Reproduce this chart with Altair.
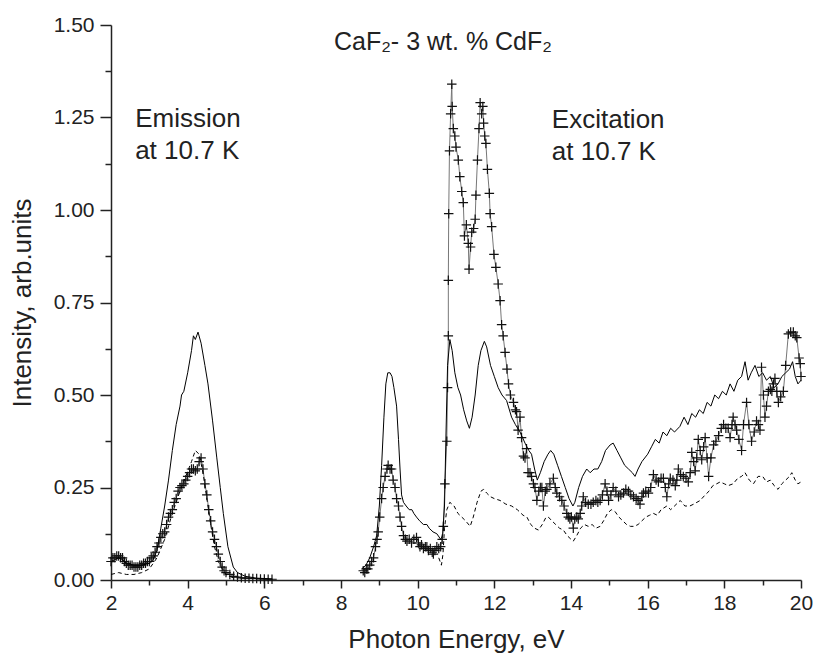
import altair as alt
import pandas as pd

# ---------------- data ----------------
# Emission (2-6.2 eV)
em_solid_x = [2.0, 2.1, 2.2, 2.3, 2.4, 2.6, 2.8, 3.0, 3.1, 3.2, 3.3, 3.4, 3.5, 3.6, 3.7, 3.8, 3.84, 3.9,
              4.0, 4.1, 4.15, 4.2, 4.27, 4.35, 4.45, 4.53, 4.65, 4.76, 4.85, 4.93, 5.05, 5.19, 5.3, 5.5, 5.8, 6.2]
em_solid_y = [0.05, 0.055, 0.06, 0.055, 0.045, 0.04, 0.04, 0.045, 0.055, 0.08, 0.14, 0.2, 0.27, 0.35, 0.42,
              0.47, 0.50, 0.51, 0.56, 0.62, 0.66, 0.65, 0.67, 0.64, 0.58, 0.53, 0.43, 0.33, 0.25, 0.18, 0.09,
              0.035, 0.02, 0.01, 0.005, 0.003]

em_dash_x = [2.0, 2.2, 2.4, 2.6, 2.8, 3.0, 3.2, 3.4, 3.6, 3.8, 3.95, 4.1, 4.2, 4.3, 4.4, 4.5, 4.6, 4.7, 4.8,
             4.9, 5.0, 5.2]
em_dash_y = [0.015, 0.02, 0.015, 0.015, 0.02, 0.03, 0.06, 0.11, 0.18, 0.24, 0.28, 0.32, 0.35, 0.34, 0.29,
             0.22, 0.15, 0.09, 0.05, 0.03, 0.015, 0.005]

em_cross_x = [2.0, 2.05, 2.1, 2.15, 2.2, 2.25, 2.3, 2.35, 2.4, 2.45, 2.5, 2.55, 2.6, 2.65, 2.7, 2.75, 2.8,
              2.85, 2.9, 2.95, 3.0, 3.05, 3.1, 3.15, 3.2, 3.25, 3.3, 3.35, 3.4, 3.45, 3.5, 3.55, 3.6, 3.65,
              3.7, 3.75, 3.8, 3.85, 3.9, 3.95, 4.0, 4.05, 4.1, 4.15, 4.2, 4.25, 4.3, 4.35, 4.4, 4.45, 4.5,
              4.55, 4.6, 4.65, 4.7, 4.75, 4.8, 4.85, 4.9, 4.95, 5.0, 5.1, 5.2, 5.3, 5.4, 5.5, 5.6, 5.7, 5.8,
              5.9, 6.0, 6.1, 6.2]
em_cross_y = [0.05, 0.06, 0.06, 0.065, 0.065, 0.06, 0.06, 0.05, 0.045, 0.04, 0.04, 0.04, 0.035, 0.035,
              0.035, 0.04, 0.04, 0.045, 0.045, 0.05, 0.05, 0.06, 0.065, 0.075, 0.09, 0.10, 0.115, 0.125,
              0.13, 0.15, 0.17, 0.18, 0.19, 0.21, 0.22, 0.24, 0.25, 0.255, 0.26, 0.27, 0.28, 0.29, 0.30,
              0.30, 0.295, 0.30, 0.32, 0.33, 0.30, 0.26, 0.23, 0.19, 0.16, 0.13, 0.11, 0.09, 0.07, 0.05,
              0.035, 0.025, 0.02, 0.015, 0.01, 0.008, 0.006, 0.005, 0.005, 0.004, 0.004, 0.003, 0.003,
              0.002, 0.002]

# Excitation (8.5-20 eV)
ex_solid_x = [8.54, 8.65, 8.75, 8.85, 8.93, 9.0, 9.06, 9.12, 9.17, 9.22, 9.28, 9.33, 9.38, 9.45, 9.5, 9.54,
              9.58, 9.63, 9.7, 9.78, 9.85, 9.9, 9.97, 10.05, 10.15, 10.24, 10.3, 10.4, 10.5, 10.6, 10.65,
              10.7, 10.74, 10.78, 10.84, 10.9, 10.97, 11.05, 11.12, 11.2, 11.28, 11.35, 11.42, 11.5, 11.58,
              11.65, 11.74, 11.8, 11.9, 12.0, 12.1, 12.2, 12.32, 12.45, 12.55, 12.67, 12.8, 12.9, 12.97,
              13.05, 13.12, 13.2, 13.3, 13.4, 13.47, 13.55, 13.65, 13.75, 13.85, 13.95, 14.05, 14.1, 14.2,
              14.3, 14.41, 14.5, 14.6, 14.7, 14.8, 14.9, 15.02, 15.1, 15.2, 15.3, 15.4, 15.5, 15.6, 15.67,
              15.75, 15.85, 16.0, 16.1, 16.2, 16.3, 16.4, 16.5, 16.6, 16.7, 16.84, 16.95, 17.05, 17.15,
              17.25, 17.35, 17.45, 17.55, 17.65, 17.75, 17.85, 17.95, 18.05, 18.15, 18.25, 18.35, 18.45,
              18.54, 18.62, 18.7, 18.8, 18.9, 19.0, 19.1, 19.2, 19.3, 19.4, 19.5, 19.6, 19.7, 19.78, 19.85,
              19.92, 20.0]
ex_solid_y = [0.03, 0.04, 0.06, 0.09, 0.12, 0.2, 0.31, 0.44, 0.53, 0.56, 0.56, 0.55, 0.52, 0.47, 0.38, 0.30,
              0.23, 0.21, 0.20, 0.19, 0.19, 0.18, 0.17, 0.16, 0.15, 0.15, 0.14, 0.13, 0.125, 0.11, 0.12,
              0.2, 0.40, 0.58, 0.65, 0.62, 0.56, 0.52, 0.50, 0.46, 0.43, 0.41, 0.44, 0.50, 0.58, 0.62,
              0.645, 0.63, 0.58, 0.55, 0.52, 0.50, 0.485, 0.44, 0.42, 0.40, 0.37, 0.35, 0.34, 0.30, 0.27,
              0.29, 0.32, 0.34, 0.35, 0.34, 0.31, 0.28, 0.25, 0.22, 0.20, 0.21, 0.25, 0.28, 0.30, 0.29,
              0.30, 0.30, 0.32, 0.35, 0.365, 0.37, 0.35, 0.33, 0.31, 0.30, 0.29, 0.28, 0.30, 0.32, 0.34,
              0.36, 0.38, 0.37, 0.40, 0.39, 0.41, 0.40, 0.415, 0.44, 0.42, 0.45, 0.44, 0.46, 0.45, 0.48,
              0.47, 0.50, 0.49, 0.51, 0.50, 0.53, 0.51, 0.54, 0.55, 0.59, 0.54, 0.56, 0.58, 0.55, 0.56,
              0.54, 0.55, 0.52, 0.53, 0.55, 0.56, 0.57, 0.59, 0.55, 0.53, 0.54]

ex_dash_x = [10.55, 10.62, 10.66, 10.7, 10.76, 10.84, 10.95, 11.05, 11.15, 11.25, 11.37, 11.45, 11.55,
             11.65, 11.72, 11.8, 11.9, 12.0, 12.15, 12.3, 12.45, 12.6, 12.75, 12.85, 12.95, 13.05, 13.15,
             13.25, 13.35, 13.41, 13.5, 13.6, 13.7, 13.8, 13.9, 14.0, 14.06, 14.15, 14.25, 14.35, 14.45,
             14.55, 14.65, 14.76, 14.85, 14.95, 15.05, 15.15, 15.25, 15.35, 15.45, 15.55, 15.65, 15.75,
             15.85, 15.95, 16.05, 16.15, 16.25, 16.35, 16.5, 16.6, 16.7, 16.85, 16.97, 17.1, 17.2, 17.37,
             17.5, 17.6, 17.7, 17.8, 17.89, 18.0, 18.1, 18.23, 18.35, 18.45, 18.54, 18.65, 18.76, 18.88,
             19.0, 19.1, 19.2, 19.3, 19.4, 19.5, 19.6, 19.7, 19.76, 19.85, 19.92, 20.0]
ex_dash_y = [0.06, 0.04, 0.07, 0.14, 0.19, 0.21, 0.2, 0.18, 0.17, 0.16, 0.145, 0.17, 0.21, 0.24, 0.245,
             0.235, 0.225, 0.22, 0.215, 0.205, 0.2, 0.19, 0.175, 0.17, 0.15, 0.14, 0.135, 0.15, 0.17, 0.17,
             0.16, 0.15, 0.14, 0.135, 0.12, 0.11, 0.105, 0.12, 0.14, 0.15, 0.145, 0.15, 0.14, 0.145, 0.16,
             0.18, 0.19, 0.185, 0.17, 0.16, 0.15, 0.145, 0.145, 0.15, 0.16, 0.17, 0.175, 0.18, 0.175, 0.19,
             0.2, 0.19, 0.2, 0.215, 0.2, 0.2, 0.205, 0.215, 0.23, 0.24, 0.255, 0.26, 0.265, 0.26, 0.255,
             0.26, 0.275, 0.28, 0.29, 0.27, 0.26, 0.28, 0.28, 0.265, 0.27, 0.255, 0.245, 0.26, 0.27, 0.28,
             0.29, 0.27, 0.26, 0.265]

ex_cross_x = [8.58, 8.62, 8.66, 8.7, 8.75, 8.8, 8.85, 8.9, 8.94, 8.97, 9.01, 9.06, 9.1, 9.15, 9.2, 9.23,
              9.28, 9.32, 9.36, 9.41, 9.45, 9.5, 9.54, 9.58, 9.63, 9.68, 9.72, 9.78, 9.84, 9.9, 9.97, 10.02,
              10.06, 10.1, 10.15, 10.2, 10.24, 10.28, 10.33, 10.38, 10.41, 10.45, 10.5, 10.55, 10.6, 10.64,
              10.67, 10.71, 10.76, 10.78, 10.8, 10.8, 10.81, 10.83, 10.86, 10.89, 10.9, 10.93, 10.97, 11.0,
              11.06, 11.1, 11.15, 11.19, 11.22, 11.27, 11.32, 11.34, 11.38, 11.41, 11.46, 11.5, 11.52,
              11.56, 11.6, 11.63, 11.67, 11.7, 11.72, 11.75, 11.78, 11.82, 11.87, 11.89, 11.93, 11.99,
              12.04, 12.1, 12.15, 12.19, 12.23, 12.28, 12.33, 12.37, 12.42, 12.5, 12.55, 12.58, 12.62,
              12.67, 12.71, 12.76, 12.8, 12.84, 12.88, 12.93, 12.97, 13.02, 13.06, 13.11, 13.16, 13.2,
              13.24, 13.28, 13.33, 13.37, 13.45, 13.54, 13.59, 13.63, 13.7, 13.76, 13.82, 13.89, 13.93,
              13.97, 14.01, 14.06, 14.1, 14.15, 14.19, 14.24, 14.28, 14.32, 14.38, 14.45, 14.52, 14.58,
              14.65, 14.7, 14.76, 14.82, 14.89, 14.94, 14.98, 15.04, 15.1, 15.17, 15.24, 15.3, 15.37,
              15.43, 15.5, 15.56, 15.63, 15.7, 15.75, 15.8, 15.85, 15.89, 15.95, 16.02, 16.08, 16.15,
              16.22, 16.28, 16.35, 16.41, 16.46, 16.5, 16.55, 16.59, 16.66, 16.72, 16.76, 16.8, 16.86,
              16.93, 17.0, 17.06, 17.11, 17.15, 17.2, 17.24, 17.28, 17.32, 17.37, 17.41, 17.46, 17.5,
              17.55, 17.59, 17.65, 17.72, 17.78, 17.85, 17.92, 17.98, 18.04, 18.1, 18.15, 18.2, 18.23,
              18.28, 18.32, 18.38, 18.45, 18.5, 18.58, 18.64, 18.71, 18.78, 18.84, 18.89, 18.93, 18.97,
              19.02, 19.06, 19.1, 19.15, 19.2, 19.24, 19.28, 19.32, 19.37, 19.41, 19.47, 19.54, 19.6,
              19.67, 19.73, 19.8, 19.85, 19.89, 19.95, 19.98, 20.0]
ex_cross_y = [0.025, 0.02, 0.03, 0.03, 0.04, 0.05, 0.06, 0.09, 0.11, 0.13, 0.17, 0.22, 0.25, 0.28, 0.30,
              0.31, 0.30, 0.30, 0.27, 0.25, 0.22, 0.20, 0.17, 0.145, 0.12, 0.11, 0.105, 0.11, 0.10, 0.11,
              0.115, 0.10, 0.09, 0.095, 0.085, 0.09, 0.09, 0.08, 0.085, 0.075, 0.07, 0.08, 0.09, 0.085,
              0.09, 0.11, 0.145, 0.26, 0.375, 0.52, 0.66, 0.81, 0.99, 1.16, 1.26, 1.34, 1.28, 1.22, 1.2,
              1.17, 1.135, 1.09, 1.05, 1.02, 0.93, 0.96, 0.91, 0.84, 0.9, 0.94, 0.95, 0.975, 1.04, 1.135,
              1.22, 1.29, 1.26, 1.28, 1.235, 1.2, 1.18, 1.11, 1.045, 0.99, 0.955, 0.88, 0.845, 0.80,
              0.755, 0.69, 0.66, 0.615, 0.57, 0.53, 0.50, 0.48, 0.46, 0.455, 0.405, 0.44, 0.385, 0.335,
              0.33, 0.355, 0.29, 0.29, 0.28, 0.26, 0.25, 0.215, 0.24, 0.25, 0.25, 0.2, 0.24, 0.245, 0.26,
              0.275, 0.25, 0.235, 0.225, 0.215, 0.2, 0.18, 0.17, 0.165, 0.17, 0.14, 0.165, 0.17, 0.165,
              0.18, 0.2, 0.225, 0.21, 0.205, 0.205, 0.21, 0.215, 0.21, 0.215, 0.23, 0.26, 0.24, 0.215,
              0.23, 0.25, 0.24, 0.225, 0.23, 0.235, 0.245, 0.24, 0.23, 0.225, 0.22, 0.215, 0.205, 0.225,
              0.235, 0.24, 0.235, 0.25, 0.285, 0.27, 0.265, 0.275, 0.275, 0.25, 0.225, 0.26, 0.275, 0.27,
              0.255, 0.27, 0.30, 0.285, 0.28, 0.275, 0.265, 0.29, 0.345, 0.32, 0.295, 0.33, 0.38, 0.35,
              0.325, 0.36, 0.385, 0.33, 0.28, 0.33, 0.365, 0.375, 0.39, 0.41, 0.42, 0.41, 0.41, 0.385,
              0.42, 0.44, 0.42, 0.405, 0.38, 0.35, 0.42, 0.48, 0.42, 0.375, 0.40, 0.43, 0.42, 0.405,
              0.575, 0.50, 0.44, 0.47, 0.51, 0.515, 0.51, 0.53, 0.545, 0.51, 0.48, 0.495, 0.51, 0.58,
              0.665, 0.67, 0.67, 0.66, 0.655, 0.60, 0.585, 0.55]

# annotation texts (positions in data units)
title_text = ["CaF\u2082- 3 wt. % CdF\u2082"]
title_x = [10.66]
title_y = [1.432]
note_text = ["Emission", "at 10.7 K", "Excitation", "at 10.7 K"]
note_x = [2.63, 2.63, 13.5, 13.5]
note_y = [1.224, 1.138, 1.222, 1.135]

x_major = [2, 4, 6, 8, 10, 12, 14, 16, 18, 20]
x_minor = [3, 5, 7, 9, 11, 13, 15, 17, 19]
y_major = [0, 0.25, 0.5, 0.75, 1.0, 1.25, 1.5]
y_minor = [0.125, 0.375, 0.625, 0.875, 1.125, 1.375]

# ---------------- build table ----------------
rows = []
def add(series, seg, xs, ys):
    for i, (a, b) in enumerate(zip(xs, ys)):
        rows.append({"series": series, "seg": seg, "i": i, "x": a, "y": b})

add("solid", "em", em_solid_x, em_solid_y)
add("solid", "ex", ex_solid_x, ex_solid_y)
add("dash", "em", em_dash_x, em_dash_y)
add("dash", "ex", ex_dash_x, ex_dash_y)
add("cross", "em", em_cross_x, em_cross_y)
add("cross", "ex", ex_cross_x, ex_cross_y)
df = pd.DataFrame(rows)

title_df = pd.DataFrame({"text": title_text, "x": title_x, "y": title_y})
note_df = pd.DataFrame({"text": note_text, "x": note_x, "y": note_y})

FONT = "Liberation Sans"
xs = alt.Scale(domain=[2, 20], nice=False, zero=False)
ys = alt.Scale(domain=[0, 1.5], nice=False)

x_enc = alt.X("x:Q", scale=xs,
              axis=alt.Axis(values=x_major, title="Photon Energy, eV", orient="bottom",
                            format="d", labelOverlap=False, labelFlush=False, grid=False, tickSize=8,
                            labelPadding=4, titlePadding=13))
y_enc = alt.Y("y:Q", scale=ys,
              axis=alt.Axis(values=y_major, title="Intensity, arb.units", orient="left",
                            format=".2f", labelOverlap=False, labelFlush=False, grid=False, tickSize=11,
                            labelPadding=6, titlePadding=18))

base = alt.Chart(df)

solid = base.transform_filter(alt.datum.series == "solid").mark_line(
    color="black", strokeWidth=1).encode(x=x_enc, y=y_enc, detail="seg:N", order="i:Q")
dash = base.transform_filter(alt.datum.series == "dash").mark_line(
    color="black", strokeWidth=1, strokeDash=[4, 3]).encode(x=x_enc, y=y_enc, detail="seg:N", order="i:Q")
crossline = base.transform_filter(alt.datum.series == "cross").mark_line(
    color="#777777", strokeWidth=1).encode(x=x_enc, y=y_enc, detail="seg:N", order="i:Q")
crosses = base.transform_filter(alt.datum.series == "cross").mark_point(
    shape="M-1,0L1,0M0,-1L0,1", size=90, filled=False, stroke="#111111", strokeWidth=1.2, opacity=1
).encode(x=x_enc, y=y_enc)

title_mark = alt.Chart(title_df).mark_text(
    font=FONT, color="#222222", baseline="alphabetic", align="center", fontSize=25
).encode(x=x_enc, y=y_enc, text="text:N")
notes = alt.Chart(note_df).mark_text(
    font=FONT, color="#222222", baseline="alphabetic", align="left", fontSize=26
).encode(x=x_enc, y=y_enc, text="text:N")

main = alt.layer(crossline, crosses, dash, solid, title_mark, notes)

# minor ticks: a second, label-less axis pair on the same scales
minor = base.transform_filter(alt.datum.series == "solid").mark_point(opacity=0).encode(
    x=alt.X("x:Q", scale=xs, axis=alt.Axis(values=x_minor, orient="bottom", labels=False, domain=False,
                                            grid=False, tickSize=5, title=None)),
    y=alt.Y("y:Q", scale=ys, axis=alt.Axis(values=y_minor, orient="left", labels=False, domain=False,
                                            grid=False, tickSize=6, title=None)),
)

chart = alt.layer(main, minor).resolve_axis(x="independent", y="independent").properties(
    width=690, height=555,
    autosize=alt.AutoSizeParams(type="none"),
    padding={"left": 111, "top": 25, "right": 14, "bottom": 84},
).configure_view(stroke=None).configure_axis(
    domainColor="#222222", domainWidth=1.5, tickColor="#222222", tickWidth=1.5,
    labelFont=FONT, labelFontSize=21, labelColor="#222222",
    titleFont=FONT, titleFontSize=26, titleFontWeight="normal", titleColor="#222222",
)

chart.save("out.html", embed_options={"renderer": "svg", "actions": False})
